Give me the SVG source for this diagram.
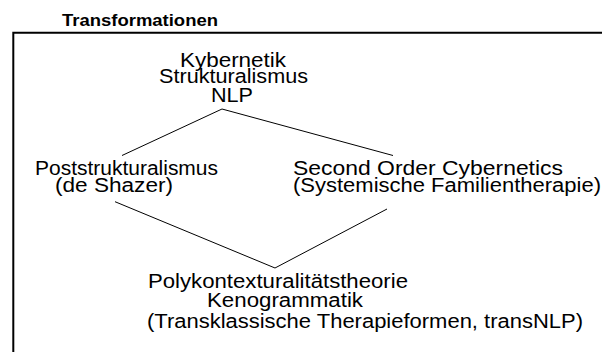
<svg xmlns="http://www.w3.org/2000/svg" width="602" height="352" viewBox="0 0 602 352">
<style>
.t{font-family:"Liberation Sans",Arial,sans-serif;font-size:20px;fill:#000}
.h{font-family:"Liberation Sans",Arial,sans-serif;font-size:16px;font-weight:bold;fill:#000}
.c{stroke:#000;stroke-width:1;fill:none}
</style>
<rect width="602" height="352" fill="#fff"/>
<text class="h" x="62" y="25.5" textLength="156" lengthAdjust="spacingAndGlyphs">Transformationen</text>
<path d="M13.3,353 V32.7 H603" stroke="#000" stroke-width="2" fill="none"/>
<g id="connectors">
<polyline class="c" points="122,155.5 222,109 393,155.5"/>
<polyline class="c" points="115,201.7 275,268 387,209"/>
</g>
<g id="top">
<text class="t" x="180" y="66.5" textLength="106" lengthAdjust="spacingAndGlyphs">Kybernetik</text>
<text class="t" x="159" y="82.5" textLength="149" lengthAdjust="spacingAndGlyphs">Strukturalismus</text>
<text class="t" x="211" y="101.5" textLength="42" lengthAdjust="spacingAndGlyphs">NLP</text>
</g>
<g id="left">
<text class="t" x="35" y="175" textLength="183" lengthAdjust="spacingAndGlyphs">Poststrukturalismus</text>
<text class="t" x="55" y="191.5" textLength="118" lengthAdjust="spacingAndGlyphs">(de Shazer)</text>
</g>
<g id="right">
<text class="t" x="293" y="175" textLength="270" lengthAdjust="spacingAndGlyphs">Second Order Cybernetics</text>
<text class="t" x="293" y="191.5" textLength="308" lengthAdjust="spacingAndGlyphs">(Systemische Familientherapie)</text>
</g>
<g id="bottom">
<text class="t" x="148" y="288.3" textLength="260" lengthAdjust="spacingAndGlyphs">Polykontexturalitätstheorie</text>
<text class="t" x="207" y="306.7" textLength="156" lengthAdjust="spacingAndGlyphs">Kenogrammatik</text>
<text class="t" x="147" y="328.3" textLength="436" lengthAdjust="spacingAndGlyphs">(Transklassische Therapieformen, transNLP)</text>
</g>
</svg>
